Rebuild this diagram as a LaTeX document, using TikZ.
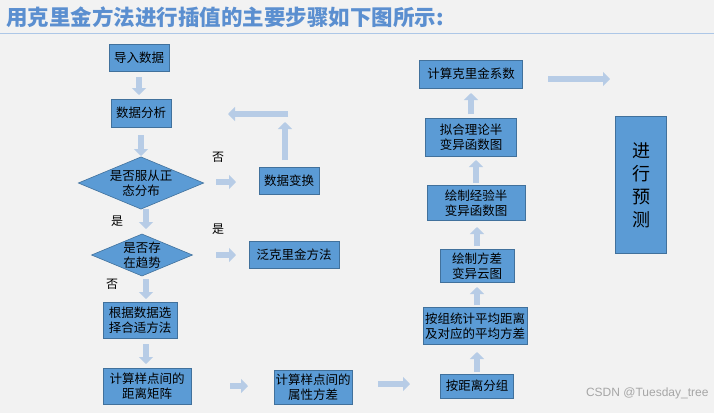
\documentclass[tikz,border=0pt]{standalone}
\usepackage{fontspec}
\setmainfont{Liberation Sans}
\newfontfamily\cjk{Noto Sans CJK SC}
\usetikzlibrary{shapes.geometric,arrows.meta}
\definecolor{boxblue}{HTML}{5B9BD5}
\definecolor{boxedge}{HTML}{41719C}
\definecolor{arrblue}{HTML}{B7CCE6}
\definecolor{titleblue}{HTML}{5B8FD0}
\definecolor{bg}{HTML}{F2F2F2}
\tikzset{
  box/.style={draw=boxedge,fill=boxblue,line width=0.6pt,inner sep=1pt,font=\cjk\fontsize{12.5}{15}\selectfont,align=center},
  dia/.style={diamond,aspect=2.4,draw=boxedge,fill=boxblue,line width=0.6pt,inner sep=0pt,font=\cjk\fontsize{12.5}{15}\selectfont,align=center},
  blk/.style={draw=arrblue,line width=6.5pt,-{Triangle[length=7pt,width=14pt]}},
  lbl/.style={font=\cjk\fontsize{12}{14}\selectfont}
}
\begin{document}
\begin{tikzpicture}[x=1pt,y=-1pt]
\fill[bg] (0,0) rectangle (714,413);
\useasboundingbox (0,0) rectangle (714,413);
\node[anchor=west,font=\cjk\bfseries\fontsize{21.5}{24}\selectfont,text=titleblue,inner sep=0pt] (title) at (6,17) {用克里金方法进行插值的主要步骤如下图所示:};
\draw[color=titleblue!50,line width=0.8pt] (0,33) -- (714,33);
% left column
\node[box,minimum width=60pt,minimum height=27pt] (n1) at (139,58) {导入数据};
\node[box,minimum width=60pt,minimum height=28pt] (n2) at (141,113) {数据分析};
\node[dia,minimum width=98pt,minimum height=40pt] (d1) at (141,183) {是否服从正\\态分布};
\node[box,minimum width=60pt,minimum height=27pt] (n3) at (289,181) {数据变换};
\node[dia,minimum width=100pt,minimum height=42pt] (d2) at (142,255) {是否存\\在趋势};
\node[box,minimum width=90pt,minimum height=27pt] (n4) at (294,255) {泛克里金方法};
\node[box,minimum width=74pt,minimum height=36pt] (n5) at (140,320) {根据数据选\\择合适方法};
\node[box,minimum width=88pt,minimum height=36pt] (n6) at (147,386) {计算样点间的\\距离矩阵};
\node[box,minimum width=78pt,minimum height=34pt] (n7) at (313,387) {计算样点间的\\属性方差};
% right column
\node[box,minimum width=73pt,minimum height=24pt] (r1) at (477,386) {按距离分组};
\node[box,minimum width=104pt,minimum height=37pt] (r2) at (475,326) {按组统计平均距离\\及对应的平均方差};
\node[box,minimum width=74pt,minimum height=33pt] (r3) at (477,266) {绘制方差\\变异云图};
\node[box,minimum width=98pt,minimum height=35pt] (r4) at (476,203) {绘制经验半\\变异函数图};
\node[box,minimum width=91pt,minimum height=38pt] (r5) at (471,137) {拟合理论半\\变异函数图};
\node[box,minimum width=103pt,minimum height=28pt] (r6) at (471,74) {计算克里金系数};
\node[box,minimum width=51pt,minimum height=137pt,font=\cjk\fontsize{18}{23}\selectfont] (p) at (641,185) {进\\行\\预\\测};
% labels
\node[lbl] (l1) at (218,157) {否};
\node[lbl] (l2) at (117,221) {是};
\node[lbl] (l3) at (218,229) {是};
\node[lbl] (l4) at (112,284) {否};
% arrows
\draw[blk] (139,77) -- (139,95);
\draw[blk] (141,135) -- (141,156);
\draw[blk] (146,209) -- (146,229);
\draw[blk] (146,279) -- (146,299);
\draw[blk] (146,344) -- (146,364);
\draw[blk] (216,182) -- (236,182);
\draw[blk] (216,255) -- (236,255);
\draw[blk] (230,386) -- (248,386);
\draw[blk] (378,384) -- (410,384);
\draw[blk] (285,160) -- (285,122);
\draw[blk] (288,114) -- (228,114);
\draw[blk] (477,372) -- (477,352);
\draw[blk] (477,305) -- (477,287);
\draw[blk] (477,246) -- (477,227);
\draw[blk] (476,183) -- (476,160);
\draw[blk] (471,114) -- (471,93);
\draw[blk] (548,79) -- (610,79);
\node[anchor=east,font=\fontsize{12}{14}\selectfont,text=gray!70] (wm) at (712,393) {CSDN @Tuesday\_tree};
\end{tikzpicture}
\end{document}
